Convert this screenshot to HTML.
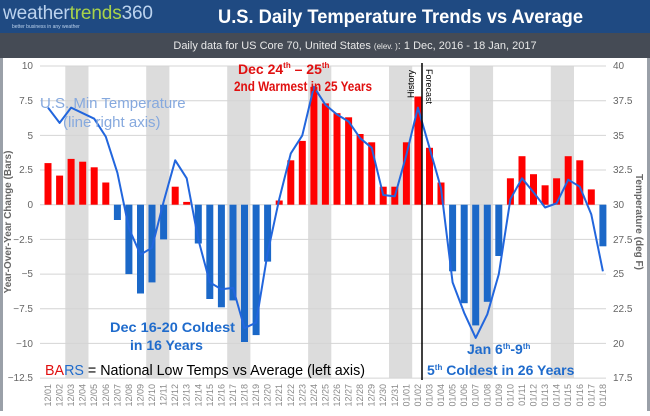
<!DOCTYPE html>
<html><head><meta charset="utf-8"><style>
html,body{margin:0;padding:0;background:#fff;}
body{width:650px;height:411px;overflow:hidden;font-family:"Liberation Sans",sans-serif;}
</style></head><body>
<svg width="650" height="411" xmlns="http://www.w3.org/2000/svg" font-family="Liberation Sans, sans-serif">
<rect x="0" y="0" width="650" height="411" fill="#fff"/>
<rect x="0" y="0" width="650" height="33" fill="#1f4a82"/>
<rect x="0" y="33" width="650" height="25" fill="#454b55"/>
<rect x="0" y="58" width="3" height="353" fill="#9aa0a8"/>
<rect x="647" y="58" width="3" height="353" fill="#9aa0a8"/>
<text x="3" y="19" font-size="19" fill="#bcd3ee" textLength="150">weather<tspan fill="#a8d24a">trends</tspan><tspan fill="#bcd3ee">360</tspan></text>
<text x="12" y="28" font-size="5" fill="#bcd3ee">better business in any weather</text>
<text x="218" y="23" font-size="19" font-weight="bold" fill="#fff" textLength="365" lengthAdjust="spacingAndGlyphs">U.S. Daily Temperature Trends vs Average</text>
<text x="355" y="49" font-size="11" fill="#e8e8e8" text-anchor="middle">Daily data for US Core 70, United States <tspan font-size="8">(elev. )</tspan>: 1 Dec, 2016 - 18 Jan, 2017</text>

<g fill="#dcdcdc">
<rect x="65.3" y="66" width="23.2" height="312"/>
<rect x="146.2" y="66" width="23.2" height="312"/>
<rect x="227.2" y="66" width="23.2" height="312"/>
<rect x="308.1" y="66" width="23.2" height="312"/>
<rect x="389.0" y="66" width="23.2" height="312"/>
<rect x="469.9" y="66" width="23.2" height="312"/>
<rect x="550.8" y="66" width="23.2" height="312"/>
</g>
<g stroke="#d4d4d4" stroke-width="1">
<line x1="40" x2="606" y1="66" y2="66"/>
<line x1="40" x2="606" y1="100.7" y2="100.7"/>
<line x1="40" x2="606" y1="135.4" y2="135.4"/>
<line x1="40" x2="606" y1="170" y2="170"/>
<line x1="40" x2="606" y1="204.7" y2="204.7"/>
<line x1="40" x2="606" y1="239.4" y2="239.4"/>
<line x1="40" x2="606" y1="274.1" y2="274.1"/>
<line x1="40" x2="606" y1="308.7" y2="308.7"/>
<line x1="40" x2="606" y1="343.4" y2="343.4"/>
<line x1="40" x2="606" y1="378.1" y2="378.1"/>
</g>
<g font-size="10" fill="#666" text-anchor="end">
<text x="33" y="69">10</text><text x="33" y="104">7.5</text><text x="33" y="139">5</text><text x="33" y="173">2.5</text><text x="33" y="208">0</text><text x="33" y="243">−2.5</text><text x="33" y="277">−5</text><text x="33" y="312">−7.5</text><text x="33" y="347">−10</text><text x="33" y="381">−12.5</text>
</g>
<g font-size="10" fill="#666">
<text x="613" y="69">40</text><text x="613" y="104">37.5</text><text x="613" y="139">35</text><text x="613" y="173">32.5</text><text x="613" y="208">30</text><text x="613" y="243">27.5</text><text x="613" y="277">25</text><text x="613" y="312">22.5</text><text x="613" y="347">20</text><text x="613" y="381">17.5</text>
</g>
<text transform="translate(11,222) rotate(-90)" font-size="10" font-weight="bold" fill="#666" text-anchor="middle">Year-Over-Year Change (Bars)</text>
<text transform="translate(636,222) rotate(90)" font-size="10" font-weight="bold" fill="#666" text-anchor="middle">Temperature (deg F)</text>

<g fill="#f00">
<rect x="44.5" y="163.1" width="7" height="41.6"/>
<rect x="56.1" y="175.6" width="7" height="29.1"/>
<rect x="67.6" y="158.9" width="7" height="45.8"/>
<rect x="79.2" y="161.7" width="7" height="43"/>
<rect x="90.7" y="167.3" width="7" height="37.4"/>
<rect x="102.3" y="182.5" width="7" height="22.2"/>
<rect x="171.7" y="186.7" width="7" height="18"/>
<rect x="183.2" y="201.9" width="7" height="2.8"/>
<rect x="275.7" y="200.5" width="7" height="4.2"/>
<rect x="287.3" y="160.3" width="7" height="44.4"/>
<rect x="298.8" y="140.9" width="7" height="63.8"/>
<rect x="310.4" y="86.8" width="7" height="117.9"/>
<rect x="321.9" y="103.4" width="7" height="101.3"/>
<rect x="333.5" y="113.2" width="7" height="91.5"/>
<rect x="345.1" y="117.3" width="7" height="87.4"/>
<rect x="356.6" y="134" width="7" height="70.7"/>
<rect x="368.2" y="142.3" width="7" height="62.4"/>
<rect x="379.7" y="186.7" width="7" height="18"/>
<rect x="391.3" y="186.7" width="7" height="18"/>
<rect x="402.9" y="142.3" width="7" height="62.4"/>
<rect x="414.4" y="96.5" width="7" height="108.2"/>
<rect x="426" y="147.8" width="7" height="56.9"/>
<rect x="437.5" y="182.5" width="7" height="22.2"/>
<rect x="506.9" y="178.3" width="7" height="26.4"/>
<rect x="518.5" y="156.2" width="7" height="48.5"/>
<rect x="530" y="174.2" width="7" height="30.5"/>
<rect x="541.6" y="185.3" width="7" height="19.4"/>
<rect x="553.1" y="178.3" width="7" height="26.4"/>
<rect x="564.7" y="156.2" width="7" height="48.5"/>
<rect x="576.3" y="160.3" width="7" height="44.4"/>
<rect x="587.8" y="189.4" width="7" height="15.3"/>
</g>
<g fill="#1b68c8">
<rect x="113.9" y="204.7" width="7" height="15.3"/>
<rect x="125.4" y="204.7" width="7" height="69.4"/>
<rect x="137" y="204.7" width="7" height="88.8"/>
<rect x="148.5" y="204.7" width="7" height="77.7"/>
<rect x="160.1" y="204.7" width="7" height="34.7"/>
<rect x="194.8" y="204.7" width="7" height="38.8"/>
<rect x="206.3" y="204.7" width="7" height="94.3"/>
<rect x="217.9" y="204.7" width="7" height="102.6"/>
<rect x="229.5" y="204.7" width="7" height="95.7"/>
<rect x="241" y="204.7" width="7" height="137.3"/>
<rect x="252.6" y="204.7" width="7" height="130.4"/>
<rect x="264.1" y="204.7" width="7" height="56.9"/>
<rect x="449.1" y="204.7" width="7" height="66.6"/>
<rect x="460.7" y="204.7" width="7" height="98.5"/>
<rect x="472.2" y="204.7" width="7" height="120.7"/>
<rect x="483.8" y="204.7" width="7" height="97.1"/>
<rect x="495.3" y="204.7" width="7" height="51.3"/>
<rect x="599.4" y="204.7" width="7" height="41.6"/>
</g>
<polyline fill="none" stroke="#2266dd" stroke-width="2" stroke-linejoin="round" points="48,107.6 59.6,122.9 71.1,107.6 82.7,113.2 94.2,118.7 105.8,136.7 117.4,172.8 128.9,228.3 140.5,254.6 152,247.7 163.6,201.9 175.2,160.3 186.7,178.3 198.3,239.4 209.8,282.4 221.4,289.3 233,287.9 244.5,328.1 256.1,322.6 267.6,253.2 279.2,199.2 290.8,153.4 302.3,135.4 313.9,86.8 325.4,104.8 337,114.5 348.6,121.5 360.1,138.1 371.7,147.8 383.2,195 394.8,196.4 406.4,154.8 417.9,107.6 429.5,147.8 441,188.1 452.6,282.4 464.2,312.9 475.7,337.9 487.3,314.3 498.8,274.1 510.4,199.2 522,178.3 533.5,192.2 545.1,207.5 556.6,203.3 568.2,179.7 579.8,186.7 591.3,214.4 602.9,271.3"/>
<line x1="422" x2="422" y1="63" y2="380" stroke="#000" stroke-width="1.5"/>
<text transform="translate(414,70) rotate(-90)" font-size="9" fill="#000" text-anchor="end">History</text>
<text transform="translate(426,69) rotate(90)" font-size="9" fill="#000">Forecast</text>

<g font-weight="bold" fill="#e01010">
<text x="238" y="74" font-size="14">Dec 24<tspan font-size="8" dy="-6">th</tspan><tspan dy="6"> – 25</tspan><tspan font-size="8" dy="-6">th</tspan></text>
<text x="234" y="91" font-size="14" textLength="138" lengthAdjust="spacingAndGlyphs">2nd Warmest in 25 Years</text>
</g>
<text x="40" y="108" font-size="15" fill="#86a9de">U.S. Min Temperature</text>
<text x="63" y="127" font-size="15" fill="#86a9de">(line right axis)</text>
<g font-weight="bold" fill="#1f6bcc" font-size="14">
<text x="110" y="332" textLength="125" lengthAdjust="spacingAndGlyphs">Dec 16-20 Coldest</text>
<text x="130" y="350">in 16 Years</text>
<text x="467" y="354">Jan 6<tspan font-size="8" dy="-5">th</tspan><tspan dy="5">-9</tspan><tspan font-size="8" dy="-5">th</tspan></text>
<text x="427" y="375">5<tspan font-size="8" dy="-5">th</tspan><tspan dy="5"> Coldest in 26 Years</tspan></text>
</g>
<text x="45" y="375" font-size="15" fill="#000" textLength="320" lengthAdjust="spacingAndGlyphs"><tspan fill="#e01010">BA</tspan><tspan fill="#1f6bcc">RS</tspan> = National Low Temps vs Average (left axis)</text>

<g font-size="9" fill="#888" text-anchor="end">
<text transform="translate(51,384) rotate(-90)">12/01</text>
<text transform="translate(62.6,384) rotate(-90)">12/02</text>
<text transform="translate(74.1,384) rotate(-90)">12/03</text>
<text transform="translate(85.7,384) rotate(-90)">12/04</text>
<text transform="translate(97.2,384) rotate(-90)">12/05</text>
<text transform="translate(108.8,384) rotate(-90)">12/06</text>
<text transform="translate(120.4,384) rotate(-90)">12/07</text>
<text transform="translate(131.9,384) rotate(-90)">12/08</text>
<text transform="translate(143.5,384) rotate(-90)">12/09</text>
<text transform="translate(155,384) rotate(-90)">12/10</text>
<text transform="translate(166.6,384) rotate(-90)">12/11</text>
<text transform="translate(178.2,384) rotate(-90)">12/12</text>
<text transform="translate(189.7,384) rotate(-90)">12/13</text>
<text transform="translate(201.3,384) rotate(-90)">12/14</text>
<text transform="translate(212.8,384) rotate(-90)">12/15</text>
<text transform="translate(224.4,384) rotate(-90)">12/16</text>
<text transform="translate(236,384) rotate(-90)">12/17</text>
<text transform="translate(247.5,384) rotate(-90)">12/18</text>
<text transform="translate(259.1,384) rotate(-90)">12/19</text>
<text transform="translate(270.6,384) rotate(-90)">12/20</text>
<text transform="translate(282.2,384) rotate(-90)">12/21</text>
<text transform="translate(293.8,384) rotate(-90)">12/22</text>
<text transform="translate(305.3,384) rotate(-90)">12/23</text>
<text transform="translate(316.9,384) rotate(-90)">12/24</text>
<text transform="translate(328.4,384) rotate(-90)">12/25</text>
<text transform="translate(340,384) rotate(-90)">12/26</text>
<text transform="translate(351.6,384) rotate(-90)">12/27</text>
<text transform="translate(363.1,384) rotate(-90)">12/28</text>
<text transform="translate(374.7,384) rotate(-90)">12/29</text>
<text transform="translate(386.2,384) rotate(-90)">12/30</text>
<text transform="translate(397.8,384) rotate(-90)">12/31</text>
<text transform="translate(409.4,384) rotate(-90)">01/01</text>
<text transform="translate(420.9,384) rotate(-90)">01/02</text>
<text transform="translate(432.5,384) rotate(-90)">01/03</text>
<text transform="translate(444,384) rotate(-90)">01/04</text>
<text transform="translate(455.6,384) rotate(-90)">01/05</text>
<text transform="translate(467.2,384) rotate(-90)">01/06</text>
<text transform="translate(478.7,384) rotate(-90)">01/07</text>
<text transform="translate(490.3,384) rotate(-90)">01/08</text>
<text transform="translate(501.8,384) rotate(-90)">01/09</text>
<text transform="translate(513.4,384) rotate(-90)">01/10</text>
<text transform="translate(525,384) rotate(-90)">01/11</text>
<text transform="translate(536.5,384) rotate(-90)">01/12</text>
<text transform="translate(548.1,384) rotate(-90)">01/13</text>
<text transform="translate(559.6,384) rotate(-90)">01/14</text>
<text transform="translate(571.2,384) rotate(-90)">01/15</text>
<text transform="translate(582.8,384) rotate(-90)">01/16</text>
<text transform="translate(594.3,384) rotate(-90)">01/17</text>
<text transform="translate(605.9,384) rotate(-90)">01/18</text>
</g>
</svg>
</body></html>
